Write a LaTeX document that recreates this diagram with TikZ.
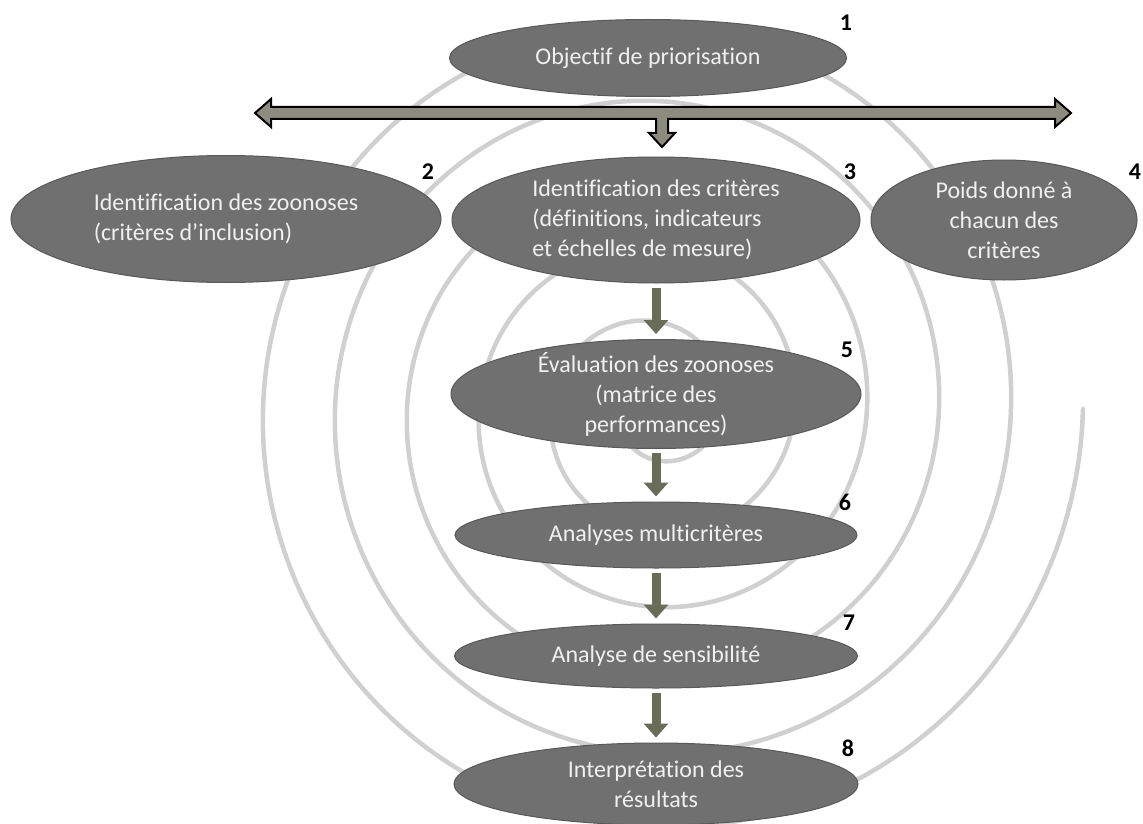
\documentclass[tikz,border=0pt]{standalone}
\usepackage{fontspec}
\setmainfont{Carlito}[Ligatures=NoCommon]
\usetikzlibrary{shapes.geometric,arrows.meta,calc}
\definecolor{nodefill}{RGB}{112,112,112}
\definecolor{nodeedge}{RGB}{88,88,88}
\definecolor{spiralc}{RGB}{208,208,208}
\definecolor{arrowc}{RGB}{105,108,88}
\definecolor{bigarrow}{RGB}{140,140,126}
\definecolor{ztxt}{RGB}{240,240,240}
\begin{document}
\begin{tikzpicture}[x=1pt,y=-1pt,
  zbox/.style={ellipse, fill=nodefill, draw=nodeedge, line width=1pt, inner sep=0pt},
  ztext/.style={text=ztxt, align=center, inner sep=0pt, font=\fontsize{24}{30}\selectfont},
  ztextl/.style={ztext, align=left},
  numlab/.style={font=\fontsize{24}{29}\selectfont\bfseries, text=black, inner sep=0pt},
  flow/.style={line width=9pt, draw=arrowc, -{Triangle[width=24pt,length=14pt]}, shorten <=4pt, shorten >=5pt},
  bigarr/.style={fill=bigarrow, draw=black, line width=2pt, line join=miter}
]
\useasboundingbox (0,0) rectangle (1143,824);
\fill[white] (0,0) rectangle (1143,824);
% spiral
\draw[spiralc, line width=4.5pt, line cap=round] plot[domain=0:34.56, samples=700, smooth]
  ({655+(428-11.459*\x)*cos(\x r)}, {409+1.02*(428-11.459*\x)*sin(\x r)});
% double arrow with branch
\coordinate (bl) at (255,113);
\coordinate (br) at (1071,113);
\coordinate (bd) at (662,147);
\filldraw[bigarr] (bl) -- ++(16,-14) -- ++(0,8) -- ($(br)+(-16,-6)$) -- ++(0,-8) -- (br)
  -- ++(-16,14) -- ++(0,-8) -- ($(bd)+(6,-28)$) -- ++(0,14) -- ++(7,0) -- (bd)
  -- ++(-13,-14) -- ++(7,0) -- ++(0,-14) -- ($(bl)+(16,6)$) -- ++(0,8) -- cycle;
% nodes
\node[zbox, minimum width=397pt, minimum height=77pt,
  label={[ztext]center:Objectif de priorisation}] (n1) at (648,58) {};
\node[zbox, minimum width=430pt, minimum height=127pt,
  label={[ztextl]center:{Identification des zoonoses\\(critères d’inclusion)}}] (n2) at (226,219) {};
\node[zbox, minimum width=408pt, minimum height=126pt,
  label={[ztextl]center:{Identification des critères\\(définitions, indicateurs\\et échelles de mesure)}}] (n3) at (656,220) {};
\node[zbox, minimum width=266pt, minimum height=120pt,
  label={[ztext]center:{Poids donné à\\chacun des\\critères}}] (n4) at (1004,220) {};
\node[zbox, minimum width=410pt, minimum height=109pt,
  label={[ztext]center:{Évaluation des zoonoses\\(matrice des\\performances)}}] (n5) at (656,394) {};
\node[zbox, minimum width=402pt, minimum height=66pt,
  label={[ztext]center:Analyses multicritères}] (n6) at (656,535) {};
\node[zbox, minimum width=403pt, minimum height=64pt,
  label={[ztext]center:Analyse de sensibilité}] (n7) at (656,656) {};
\node[zbox, minimum width=404pt, minimum height=82pt,
  label={[ztext]center:{Interprétation des\\résultats}}] (n8) at (656,784) {};
% flow arrows
\draw[flow] (n3) -- (n5);
\draw[flow] (n5) -- (n6);
\draw[flow] (n6) -- (n7);
\draw[flow] (n7) -- (n8);
% number labels
\node[numlab] (l1) at (846,23) {1};
\node[numlab] (l2) at (428,172) {2};
\node[numlab] (l3) at (850,172) {3};
\node[numlab] (l4) at (1135,172) {4};
\node[numlab] (l5) at (847,350) {5};
\node[numlab] (l6) at (845,502) {6};
\node[numlab] (l7) at (849,623) {7};
\node[numlab] (l8) at (848,748) {8};
\end{tikzpicture}
\end{document}
